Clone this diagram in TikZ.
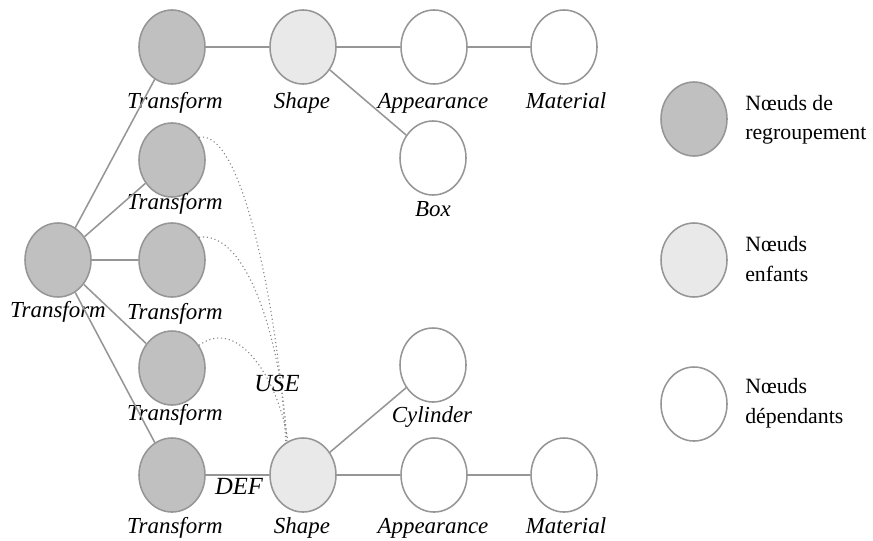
\documentclass[tikz,border=0pt]{standalone}
\usepackage{fontspec}
\setmainfont{Liberation Serif}
\usepackage{tikz}
\usetikzlibrary{shapes.geometric, positioning}

\definecolor{groupfill}{RGB}{192,192,192}
\definecolor{childfill}{RGB}{233,233,233}
\definecolor{edgegray}{RGB}{150,150,150}

\begin{document}
\begin{tikzpicture}[
                x=0.025cm, y=-0.025cm,
                vnode/.style={ellipse, draw=edgegray, line width=1.1pt, minimum width=1.65cm, minimum height=1.85cm, inner sep=0pt},
                group/.style={vnode, fill=groupfill},
                child/.style={vnode, fill=childfill},
                dep/.style={vnode, fill=white},
                edge/.style={draw=edgegray, line width=1.1pt},
                usepath/.style={draw=edgegray!90!black, dotted, line width=0.8pt},
                lbl/.style={anchor=base, inner sep=0pt, font=\fontsize{16.3}{19}\selectfont\itshape},
                tag/.style={inner sep=0pt, font=\fontsize{17.5}{20}\selectfont\itshape},
                legend/.style={anchor=west, align=left, inner sep=0pt, font=\fontsize{15.5}{21}\selectfont}
            ]
            \useasboundingbox (0,0) rectangle (873,540);

            % Grouping nodes
            \node[group] (root) at (58, 260) {};
            \node[group] (t1) at (172, 47) {};
            \node[group] (t2) at (172, 160) {};
            \node[group] (t3) at (172, 260) {};
            \node[group] (t4) at (172, 368) {};
            \node[group] (t5) at (172, 475) {};

            % Children and dependants
            \node[child] (sha) at (303, 47) {};
            \node[dep] (appa) at (434, 47) {};
            \node[dep] (mata) at (564, 47) {};
            \node[dep] (box) at (433, 158) {};
            \node[dep] (cyl) at (433, 365) {};
            \node[child] (shb) at (303, 475) {};
            \node[dep] (appb) at (434, 475) {};
            \node[dep] (matb) at (564, 475) {};

            % Labels
            \node[lbl] (l-root) at (58, 317) {Transform};
            \node[lbl] (l-t1) at (175, 108) {Transform};
            \node[lbl] (l-t2) at (175, 209) {Transform};
            \node[lbl] (l-t3) at (175, 319) {Transform};
            \node[lbl] (l-t4) at (175, 420) {Transform};
            \node[lbl] (l-t5) at (175, 533) {Transform};
            \node[lbl] (l-sha) at (302, 108) {Shape};
            \node[lbl] (l-appa) at (433, 108) {Appearance};
            \node[lbl] (l-mata) at (566, 108) {Material};
            \node[lbl] (l-box) at (433, 216) {Box};
            \node[lbl] (l-cyl) at (432, 422) {Cylinder};
            \node[lbl] (l-shb) at (302, 533) {Shape};
            \node[lbl] (l-appb) at (433, 533) {Appearance};
            \node[lbl] (l-matb) at (566, 533) {Material};

            % Edges
            \draw[edge] (root) -- (t1);
            \draw[edge] (root) -- (t2);
            \draw[edge] (root) -- (t3);
            \draw[edge] (root) -- (t4);
            \draw[edge] (root) -- (t5);
            \draw[edge] (t1) -- (sha);
            \draw[edge] (sha) -- (appa);
            \draw[edge] (appa) -- (mata);
            \draw[edge] (sha) -- (box);
            \draw[edge] (t5) -- (shb);
            \draw[edge] (shb) -- (cyl);
            \draw[edge] (shb) -- (appb);
            \draw[edge] (appb) -- (matb);

            % USE / DEF
            \draw[usepath] (t2.40) .. controls (245,128) and (280,330) .. (shb.118);
            \draw[usepath] (t3.40) .. controls (248,230) and (282,345) .. (shb.116);
            \draw[usepath] (t4.40) .. controls (240,315) and (280,385) .. (shb.114);
            \node[tag] (use) at (277, 383) {USE};
            \node[tag] (def) at (239, 486) {DEF};

            % Legend
            \node[group] (k1) at (694, 119) {};
            \node[child] (k2) at (694, 260) {};
            \node[dep] (k3) at (694, 404) {};
            \node[legend] (k1-text) at (745, 120) {Nœuds de\\regroupement};
            \node[legend] (k2-text) at (745, 259) {Nœuds\\enfants};
            \node[legend] (k3-text) at (745, 403) {Nœuds\\dépendants};
\end{tikzpicture}
\end{document}
